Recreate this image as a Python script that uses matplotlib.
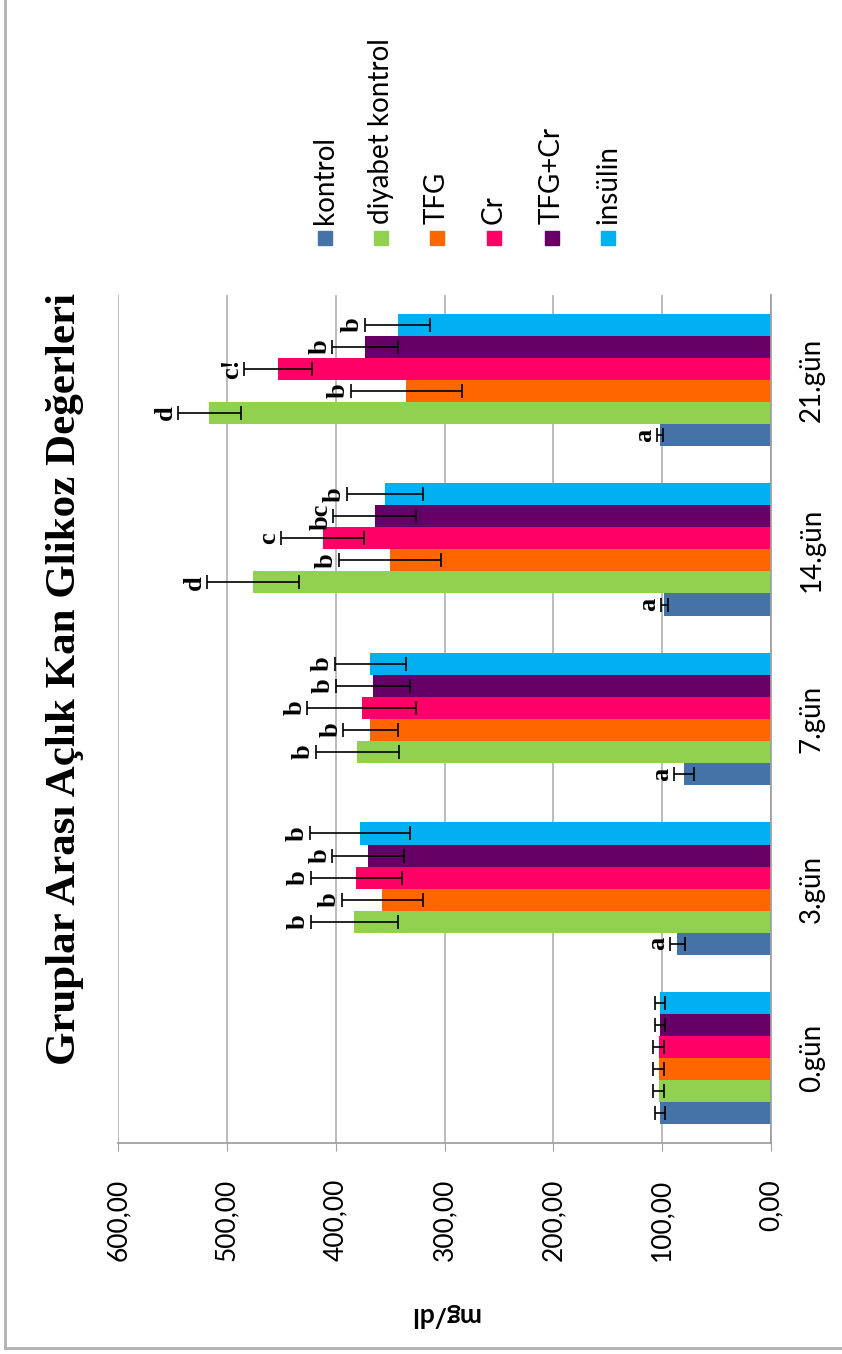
import numpy as np
import matplotlib
matplotlib.use("Agg")
import matplotlib.pyplot as plt
from matplotlib.patches import Rectangle
from matplotlib.lines import Line2D

# data
days = ["0.gün", "3.gün", "7.gün", "14.gün", "21.gün"]
groups = ["kontrol", "diyabet kontrol", "TFG", "Cr", "TFG+Cr", "insülin"]
colors = ["#4572A7", "#92D050", "#FF6600", "#FF0066", "#660066", "#00B0F0"]

kontrol = [102, 86, 80, 98, 102]
diyabet = [103, 383, 380, 476, 516]
tfg = [103, 357, 368, 350, 335]
cr = [103, 381, 376, 412, 453]
tfg_cr = [102, 370, 366, 364, 373]
insulin = [102, 378, 368, 355, 343]

kontrol_err = [5, 7, 9, 3, 3]
diyabet_err = [5, 40, 38, 42, 29]
tfg_err = [5, 37, 25, 47, 51]
cr_err = [5, 42, 50, 38, 31]
tfg_cr_err = [5, 33, 34, 38, 30]
insulin_err = [5, 46, 33, 35, 30]

kontrol_lbl = ["", "a", "a", "a", "a"]
diyabet_lbl = ["", "b", "b", "d", "d"]
tfg_lbl = ["", "b", "b", "b", "b"]
cr_lbl = ["", "b", "b", "c", "c!"]
tfg_cr_lbl = ["", "b", "b", "bc", "b"]
insulin_lbl = ["", "b", "b", "b", "b"]

values = [kontrol, diyabet, tfg, cr, tfg_cr, insulin]
errors = [kontrol_err, diyabet_err, tfg_err, cr_err, tfg_cr_err, insulin_err]
letters = [kontrol_lbl, diyabet_lbl, tfg_lbl, cr_lbl, tfg_cr_lbl, insulin_lbl]

W, H = 842, 1354
fig = plt.figure(figsize=(W / 100, H / 100), dpi=100)

# plot area in pixels: x 118..771, y 295..1143
ax = fig.add_axes([118 / W, 1 - 1143 / H, (771 - 118) / W, (1143 - 295) / H])

bar_h = 0.13
y = np.arange(len(days))
for i in range(len(groups)):
    pos = y + (i - 2.5) * bar_h
    ax.barh(pos, values[i], height=bar_h, color=colors[i], label=groups[i], zorder=2)
    ax.errorbar(values[i], pos, xerr=errors[i], fmt="none", ecolor="black",
                elinewidth=1.2, capsize=5, capthick=1.2, zorder=3)
    for j in range(len(days)):
        if letters[i][j]:
            ax.text(values[i][j] + errors[i][j] + 1, pos[j], letters[i][j],
                    rotation=90, ha="right", va="center", fontsize=19,
                    fontweight="bold", family="Liberation Serif", zorder=4)

ax.set_xlim(600, 0)
ax.set_ylim(-0.5, len(days) - 0.5)
ax.set_xticks(np.arange(0, 601, 100))
ax.set_xticklabels(["%d,00" % v for v in range(0, 601, 100)], rotation=90,
                   fontsize=19, family="Lato", va="top")
ax.xaxis.grid(True, color="#B0B0B0", linewidth=1.2, zorder=0)
ax.tick_params(axis="x", length=6, color="#A0A0A0", pad=20)

ax.yaxis.tick_right()
ax.set_yticks(y)
ax.set_yticklabels(days, rotation=90, fontsize=20, family="Lato", va="center")
ax.tick_params(axis="y", length=0, pad=20)

for s in ["top", "left"]:
    ax.spines[s].set_visible(False)
ax.spines["bottom"].set_color("#A0A0A0")
ax.spines["bottom"].set_linewidth(1.3)
ax.spines["right"].set_color("#A0A0A0")
ax.spines["right"].set_linewidth(1.3)

ax.set_xlabel("mg/dl", rotation=180, fontsize=19, fontweight="bold",
              family="Lato", labelpad=30)

# title
fig.text(65 / W, 1 - 679 / H, "Gruplar Arası Açlık Kan Glikoz Değerleri",
         rotation=90, ha="center", va="center", fontsize=31,
         fontweight="bold", family="Liberation Serif")

# legend, drawn rotated
leg_x = [325, 381, 437, 494, 552, 608]
for i in range(len(groups)):
    fig.patches.append(Rectangle(((leg_x[i] - 7) / W, 1 - 245 / H), 14 / W, 14 / H,
                                 transform=fig.transFigure, color=colors[i]))
    fig.text(leg_x[i] / W, 1 - 224 / H, groups[i], rotation=90, ha="center",
             va="bottom", fontsize=20, family="Lato")

# outer frame (left and bottom edges visible)
fig.lines.append(Line2D([5 / W, 5 / W], [1 - 1348 / H, 1], transform=fig.transFigure,
                        color="#B0B0B0", linewidth=2))
fig.lines.append(Line2D([5 / W, 1], [1 - 1348 / H, 1 - 1348 / H], transform=fig.transFigure,
                        color="#B0B0B0", linewidth=2))

fig.savefig("out.png", dpi=100)
